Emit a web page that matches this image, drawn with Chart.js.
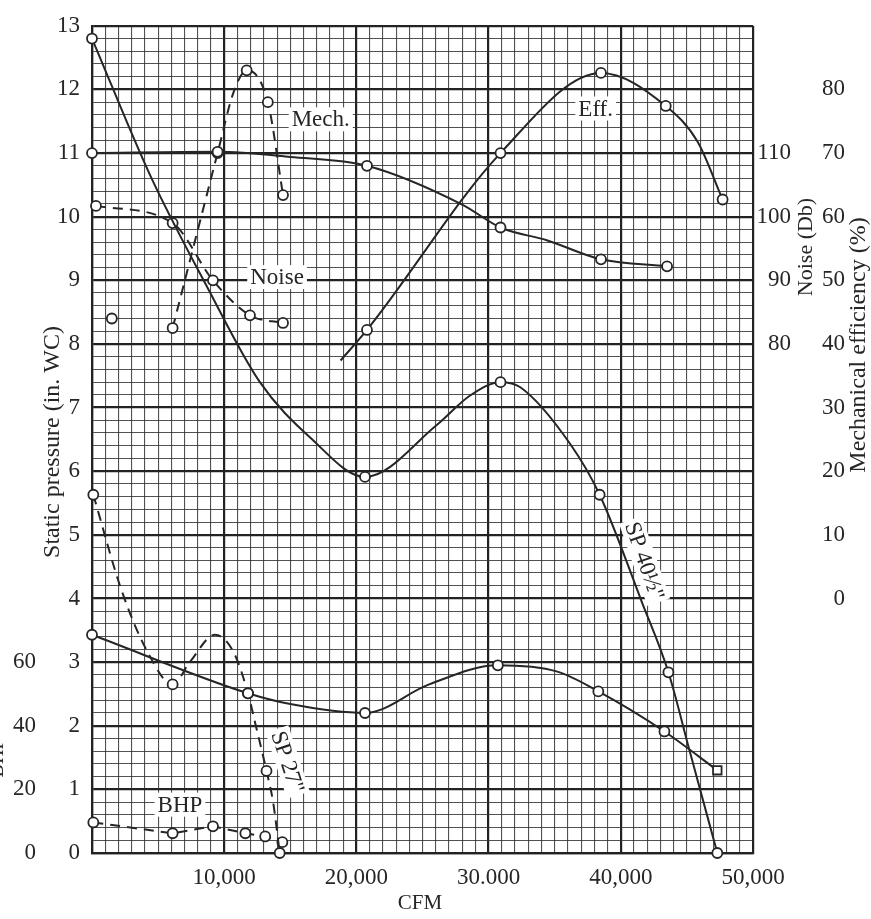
<!DOCTYPE html>
<html><head><meta charset="utf-8">
<script src="https://cdn.jsdelivr.net/npm/chart.js@4.4.0/dist/chart.umd.min.js"></script>
<style>html,body{margin:0;padding:0;background:#fff;}#wrap{width:871px;height:919px;}</style>
</head><body><div id="wrap"><canvas id="c" width="871" height="919"></canvas></div>
<script>
// ---------- DATA ----------
// SP 40 1/2" fan (solid curves)
const sp40CFM    = [0, 4400, 8700, 12700, 16500, 20650, 26100, 28600, 30900, 32400, 36200, 38400, 41600, 43600, 45200, 47300];
const sp40SP     = [12.8, 10.65, 8.9, 7.4, 6.53, 5.91, 6.73, 7.19, 7.4, 7.32, 6.42, 5.63, 3.94, 2.84, 1.61, 0];
const sp40Mark   = [1, 0, 0, 0, 0, 1, 0, 0, 1, 0, 0, 1, 0, 1, 0, 1];

const bhp40CFM   = [0, 11800, 15000, 20650, 25500, 30700, 35200, 38300, 43300, 47300];
const bhp40HP    = [68.6, 50.2, 46.8, 44, 53, 59, 57, 50.8, 38.2, 26];
const bhp40Mark  = [1, 1, 0, 1, 0, 1, 0, 1, 1, 2];

const noise40CFM = [0, 9500, 15000, 20800, 28000, 30900, 34400, 38500, 43500];
const noise40Db  = [110, 110.2, 109.4, 108, 101.9, 98.3, 96.3, 93.3, 92.2];
const noise40Mark= [1, 1, 0, 1, 0, 1, 0, 1, 1];

const eff40CFM   = [18800, 20800, 30900, 38500, 43400, 45800, 47700];
const eff40Pct   = [37.4, 42.2, 70, 82.6, 77.4, 71.8, 62.7];
const eff40Mark  = [0, 1, 1, 1, 1, 0, 1];

// SP 27" fan (dashed curves)
const sp27CFM    = [100, 2200, 4200, 6100, 7400, 9300, 10700, 11800, 12300, 13200, 13700, 14200];
const sp27SP     = [5.63, 4.15, 3.16, 2.65, 3.0, 3.43, 3.16, 2.51, 2.08, 1.29, 0.8, 0];
const sp27Mark   = [1, 0, 0, 1, 0, 0, 0, 1, 0, 1, 0, 1];

const bhp27CFM   = [100, 6100, 9150, 11600, 13100, 14400];
const bhp27HP    = [9.6, 6.2, 8.4, 6.2, 5.2, 3.4];
const bhp27Mark  = [1, 1, 1, 1, 1, 1];

const noise27CFM = [300, 6100, 9150, 11950, 14450];
const noise27Db  = [101.7, 99, 90, 84.5, 83.3];
const noise27Mark= [1, 1, 1, 1, 1];

const mech27CFM  = [1500, 3800, 6100, 9500, 10700, 11700, 13300, 14450];
const mech27Pct  = [44, null, 42.5, 70, 79.5, 83, 78, 63.4];
const mech27Mark = [1, 0, 1, 1, 0, 1, 1, 1];

// tick labels
const xTickValues   = [10000, 20000, 30000, 40000, 50000];
const xTickLabels   = ['10,000', '20,000', '30.000', '40,000', '50,000'];
const spTickValues  = [0,1,2,3,4,5,6,7,8,9,10,11,12,13];
const bhpTickValues = [0, 20, 40, 60];
const noiseTickValues = [80, 90, 100, 110];
const effTickValues = [0, 10, 20, 30, 40, 50, 60, 70, 80];

// ---------- CHART ----------
const INK = '#262626';
const FONT = "'Liberation Serif', 'Times New Roman', serif";

function pts(xs, ys) { return xs.map((x, i) => ({x: x, y: ys[i]})); }

function series(label, xs, ys, marks, axis, dashed, smooth) {
  return {
    label: label,
    data: pts(xs, ys),
    yAxisID: axis,
    borderColor: INK,
    borderWidth: 2,
    borderDash: dashed ? [10, 7] : [],
    cubicInterpolationMode: smooth ? 'monotone' : 'default',
    tension: 0,
    spanGaps: false,
    fill: false,
    clip: false,
    pointRadius: ctx => (marks[ctx.dataIndex] ? (marks[ctx.dataIndex] === 2 ? 6 : 5) : 0),
    pointStyle: ctx => (marks[ctx.dataIndex] === 2 ? 'rect' : 'circle'),
    pointBackgroundColor: '#ffffff',
    pointBorderColor: INK,
    pointBorderWidth: 1.8
  };
}

const isInt = v => Math.abs(v - Math.round(v)) < 1e-6;
const has = (arr, v) => arr.some(a => Math.abs(a - v) < 1e-6);

const minorGrid = 'rgba(50,50,50,0.85)';
const majorGrid = '#222';

const curveLabels = [
  {text: 'Mech.',   x: 17300, y: 11.53, angle: 0},
  {text: 'Noise',   x: 14000, y: 9.05,  angle: 0},
  {text: 'Eff.',    x: 38100, y: 11.7,  angle: 0},
  {text: 'BHP',     x: 6650,  y: 0.76,  angle: 0},
  {text: 'SP 27"',  x: 14800, y: 1.43,  angle: 72},
  {text: 'SP 40½"', x: 41800, y: 4.59,  angle: 71}
];

const axisTitles = [
  {text: 'Static pressure (in. WC)', px: 53,  py: 442, rot: -90, size: 24},
  {text: 'Noise (Db)',               px: 806, py: 247, rot: -90, size: 22},
  {text: 'Mechanical efficiency (%)',px: 859, py: 345, rot: -90, size: 24},
  {text: 'CFM',                      px: 420, py: 903, rot: 0,   size: 21},
  {text: 'BHP',                      px: -2,  py: 758, rot: -90, size: 20}
];

const textPlugin = {
  id: 'textPlugin',
  afterDatasetsDraw(chart) {
    const c = chart.ctx;
    const xs = chart.scales.x, ys = chart.scales.y;
    c.save();
    c.textAlign = 'center';
    c.textBaseline = 'middle';
    curveLabels.forEach(l => {
      const px = xs.getPixelForValue(l.x), py = ys.getPixelForValue(l.y);
      c.save();
      c.translate(px, py);
      c.rotate(l.angle * Math.PI / 180);
      c.font = '23px ' + FONT;
      const w = c.measureText(l.text).width;
      c.fillStyle = '#fff';
      c.fillRect(-w / 2 - 3, -12, w + 6, 24);
      c.fillStyle = INK;
      c.fillText(l.text, 0, 1);
      c.restore();
    });
    axisTitles.forEach(t => {
      c.save();
      c.translate(t.px, t.py);
      c.rotate(t.rot * Math.PI / 180);
      c.font = t.size + 'px ' + FONT;
      c.fillStyle = INK;
      c.fillText(t.text, 0, 0);
      c.restore();
    });
    c.restore();
  }
};

const tickFont = {family: FONT, size: 23};

new Chart(document.getElementById('c'), {
  type: 'line',
  data: {
    datasets: [
      series('SP 40½"', sp40CFM, sp40SP, sp40Mark, 'y', false, true),
      series('BHP (SP 40½")', bhp40CFM, bhp40HP, bhp40Mark, 'yb', false, true),
      series('Noise (SP 40½")', noise40CFM, noise40Db, noise40Mark, 'yn', false, true),
      series('Eff. (SP 40½")', eff40CFM, eff40Pct, eff40Mark, 'ye', false, true),
      series('SP 27"', sp27CFM, sp27SP, sp27Mark, 'y', true, true),
      series('BHP (SP 27")', bhp27CFM, bhp27HP, bhp27Mark, 'yb', true, false),
      series('Noise (SP 27")', noise27CFM, noise27Db, noise27Mark, 'yn', true, true),
      series('Mech. (SP 27")', mech27CFM, mech27Pct, mech27Mark, 'ye', true, true)
    ]
  },
  options: {
    responsive: false,
    devicePixelRatio: 1,
    animation: false,
    events: [],
    layout: {padding: {top: 14, right: 26, left: 0, bottom: 0}},
    plugins: {legend: {display: false}, tooltip: {enabled: false}, title: {display: false}},
    scales: {
      x: {
        type: 'linear', position: 'bottom', min: 0, max: 50000,
        afterFit: s => { s.height = 66; },
        ticks: {
          stepSize: 1000, autoSkip: false, maxRotation: 0, minRotation: 0,
          padding: 11, color: INK, font: tickFont,
          callback: v => { const i = xTickValues.indexOf(Math.round(v)); return i >= 0 ? xTickLabels[i] : ''; }
        },
        grid: {
          drawTicks: false,
          color: ctx => (ctx.tick && Math.round(ctx.tick.value) % 10000 === 0 ? majorGrid : minorGrid),
          lineWidth: ctx => (ctx.tick && Math.round(ctx.tick.value) % 10000 === 0 ? 2.2 : 1.1)
        },
        border: {display: true, color: majorGrid, width: 2.2}
      },
      y: {
        type: 'linear', position: 'left', weight: 1, min: 0, max: 13,
        afterFit: s => { s.width = 52; },
        ticks: {
          stepSize: 0.2, autoSkip: false, padding: 12, color: INK, font: tickFont,
          callback: v => (isInt(v) && has(spTickValues, Math.round(v)) ? String(Math.round(v)) : '')
        },
        grid: {
          drawTicks: false,
          color: ctx => (ctx.tick && isInt(ctx.tick.value) ? majorGrid : minorGrid),
          lineWidth: ctx => (ctx.tick && isInt(ctx.tick.value) ? 2.2 : 1.1)
        },
        border: {display: true, color: majorGrid, width: 2.2}
      },
      yb: {
        type: 'linear', position: 'left', weight: 2, min: 0, max: 260,
        afterFit: s => { s.width = 40; },
        ticks: {
          stepSize: 20, autoSkip: false, padding: 4, color: INK, font: tickFont,
          callback: v => (has(bhpTickValues, v) ? String(v) : '')
        },
        grid: {display: false, drawTicks: false},
        border: {display: false}
      },
      yn: {
        type: 'linear', position: 'right', weight: 1, min: 0, max: 130,
        afterFit: s => { s.width = 38; },
        ticks: {
          stepSize: 10, autoSkip: false, padding: 4, crossAlign: 'far', color: INK, font: tickFont,
          callback: v => (has(noiseTickValues, v) ? String(v) : '')
        },
        grid: {display: false, drawTicks: false},
        border: {display: false}
      },
      ye: {
        type: 'linear', position: 'right', weight: 2, min: -40, max: 90,
        afterFit: s => { s.width = 54; },
        ticks: {
          stepSize: 10, autoSkip: false, padding: 4, crossAlign: 'far', color: INK, font: tickFont,
          callback: v => (has(effTickValues, v) ? String(v) : '')
        },
        grid: {display: false, drawTicks: false},
        border: {display: false}
      }
    }
  },
  plugins: [textPlugin]
});
</script>
</body></html>
